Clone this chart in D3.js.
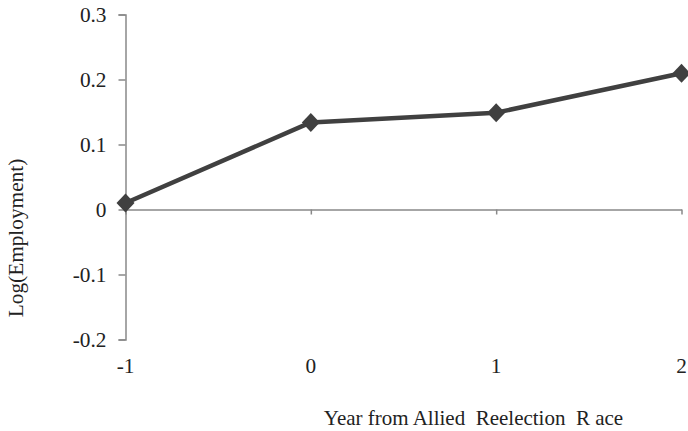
<!DOCTYPE html>
<html><head><meta charset="utf-8">
<script src="https://cdn.jsdelivr.net/npm/d3@7"></script>
<style>
html,body{margin:0;padding:0;background:#fff;}
svg text{font-family:"Liberation Serif","Times New Roman",serif !important;fill:#222;}
</style></head>
<body>
<svg id="chart" width="688" height="431"></svg>
<script>
const years = [-1, 0, 1, 2];
const logEmployment = [0.010, 0.134, 0.149, 0.2095];
const yTicks = [-0.2, -0.1, 0, 0.1, 0.2, 0.3];
const yTickLabels = ["-0.2", "-0.1", "0", "0.1", "0.2", "0.3"];
const xTickLabels = ["-1", "0", "1", "2"];
const xTitle = "Year from Allied  Reelection  R ace";
const yTitle = "Log(Employment)";

const svg = d3.select("#chart");
const x = d3.scaleLinear().domain([-1, 2]).range([125.5, 681.5]);
const y = d3.scaleLinear().domain([-0.2, 0.3]).range([339.5, 14.5]);
const axisColor = "#898989";
const fs = 21.3;

// y axis
const gy = svg.append("g").attr("transform", `translate(${x(-1)},0)`)
  .call(d3.axisLeft(y).tickValues(yTicks).tickSize(7).tickPadding(12)
    .tickFormat((d,i) => yTickLabels[i]));
gy.attr("font-family", null).attr("font-size", null);
gy.select(".domain").attr("stroke", axisColor).attr("stroke-width", 1.5);
gy.selectAll(".tick line").attr("stroke", axisColor).attr("stroke-width", 1.5);
gy.selectAll(".tick text").style("font-size", fs + "px").attr("fill", "#222");

// x axis at y=0
const gx = svg.append("g").attr("transform", `translate(0,${y(0)})`)
  .call(d3.axisBottom(x).tickValues(years).tickSize(5).tickSizeOuter(0).tickFormat(""));
gx.select(".domain").attr("stroke", axisColor).attr("stroke-width", 1.5);
gx.selectAll(".tick line").attr("stroke", axisColor).attr("stroke-width", 1.5);

// x tick labels at bottom
svg.append("g").selectAll("text").data(years).join("text")
  .attr("x", d => x(d)).attr("y", 373)
  .attr("text-anchor", "middle").style("font-size", fs + "px")
  .text((d,i) => xTickLabels[i]);

// line
const line = d3.line().x((d,i) => x(years[i])).y(d => y(d));
svg.append("path").datum(logEmployment).attr("d", line)
  .attr("fill", "none").attr("stroke", "#404040").attr("stroke-width", 4.5)
  .attr("stroke-linejoin", "round");

// markers
svg.append("g").selectAll("path").data(logEmployment).join("path")
  .attr("transform", (d,i) => `translate(${x(years[i])},${y(d)})`)
  .attr("d", "M0,-9.5L9,0L0,9.5L-9,0Z").attr("fill", "#404040");

// titles
svg.append("text").attr("x", 473.5).attr("y", 425).attr("text-anchor", "middle")
  .style("font-size", "21px").style("white-space", "pre").text(xTitle);
svg.append("text").attr("transform", "translate(23,238) rotate(-90)")
  .attr("text-anchor", "middle").style("font-size", "21.3px").text(yTitle);
</script>
</body></html>
